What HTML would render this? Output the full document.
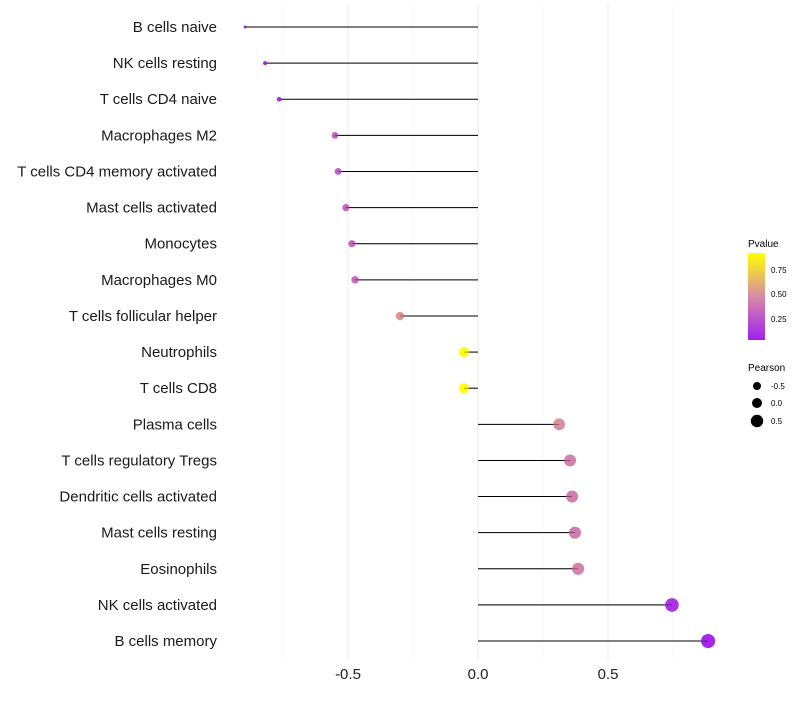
<!DOCTYPE html>
<html><head><meta charset="utf-8"><style>
body{margin:0;background:#fff;font-family:"Liberation Sans",sans-serif}
</style></head><body>
<svg id="chart" width="800" height="700" xmlns="http://www.w3.org/2000/svg" font-family="Liberation Sans, sans-serif">
<g id="grid"></g>
<g id="marks"></g>
<g id="ylabels"></g>
<g id="xticks"></g>
<g>
<defs><linearGradient id="pg" x1="0" y1="1" x2="0" y2="0">
<stop offset="0" stop-color="#A020F0"/><stop offset="0.5" stop-color="#D98AA6"/><stop offset="1" stop-color="#FFFF00"/></linearGradient></defs>
<text x="748" y="247" font-size="10">Pvalue</text>
<rect x="748" y="253" width="17" height="87" fill="url(#pg)"/>
<text x="771" y="273" font-size="8">0.75</text>
<text x="771" y="297" font-size="8">0.50</text>
<text x="771" y="322" font-size="8">0.25</text>
</g>
<g>
<text x="748" y="371" font-size="10">Pearson</text>
<circle cx="757" cy="386" r="4" fill="#000"/>
<circle cx="757" cy="403" r="5" fill="#000"/>
<circle cx="757" cy="421" r="6.2" fill="#000"/>
<text x="771" y="389" font-size="8">-0.5</text>
<text x="771" y="406" font-size="8">0.0</text>
<text x="771" y="424" font-size="8">0.5</text>
</g>
</svg>
<script>
const categories=["B cells naive","NK cells resting","T cells CD4 naive","Macrophages M2","T cells CD4 memory activated","Mast cells activated","Monocytes","Macrophages M0","T cells follicular helper","Neutrophils","T cells CD8","Plasma cells","T cells regulatory  Tregs ","Dendritic cells activated","Mast cells resting","Eosinophils","NK cells activated","B cells memory"];
const pearson=[-0.896,-0.819,-0.765,-0.55,-0.538,-0.508,-0.485,-0.473,-0.3,-0.054,-0.054,0.312,0.354,0.362,0.373,0.385,0.746,0.885];
const pvalues=[0.05,0.08,0.1,0.3,0.3,0.31,0.32,0.33,0.52,0.92,0.92,0.5,0.43,0.42,0.41,0.44,0.1,0.05];
const xTicks=[-0.5,0,0.5];
const xTickLabels=["-0.5","0.0","0.5"];
const xMinor=[-0.75,-0.25,0.25,0.75];
const NS="http://www.w3.org/2000/svg";
const x=v=>478+v*260;
const y=i=>27+i*36.12;
const r=v=>Math.sqrt(Math.max(1,2+(v+0.9)*27));
function lerp(a,b,t){return a.map((c,i)=>Math.round(c+(b[i]-c)*t));}
function col(p){const t=Math.max(0,Math.min(1,(p-0.02)/0.9));const lo=[160,32,240],mid=[217,138,166],hi=[255,255,0];
const c=t<0.5?lerp(lo,mid,t*2):lerp(mid,hi,(t-0.5)*2);return `rgb(${c[0]},${c[1]},${c[2]})`;}
function mk(tag,attrs,parent){const e=document.createElementNS(NS,tag);for(const k in attrs)e.setAttribute(k,attrs[k]);parent.appendChild(e);return e;}
const grid=document.getElementById('grid'),marks=document.getElementById('marks'),yl=document.getElementById('ylabels'),xt=document.getElementById('xticks');
xMinor.forEach(v=>{const l=mk('line',{x1:x(v),x2:x(v),y1:5,y2:660,stroke:'#f4f4f4','stroke-width':0.6},grid);

});
xTicks.forEach((v,i)=>{const l=mk('line',{x1:x(v),x2:x(v),y1:5,y2:660,stroke:'#eeeeee','stroke-width':1.1},grid);


const t=mk('text',{x:x(v),y:679,'font-size':15,'text-anchor':'middle',fill:'#222'},xt);t.textContent=xTickLabels[i];

});
categories.forEach((c,i)=>{const yy=y(i);
const t=mk('text',{x:217,y:yy+5,'font-size':15,'text-anchor':'end',fill:'#1a1a1a'},yl);t.textContent=c;


const s=mk('line',{x1:x(0),x2:x(pearson[i]),y1:yy,y2:yy,stroke:'#000','stroke-width':1},marks);


const p=mk('circle',{cx:x(pearson[i]),cy:yy,r:r(pearson[i]),fill:col(pvalues[i])},marks);


const s2=mk('line',{x1:x(0),x2:x(pearson[i]),y1:yy,y2:yy,stroke:'#000','stroke-width':0.6,'stroke-opacity':0.6},marks);

});
</script>
</body></html>
